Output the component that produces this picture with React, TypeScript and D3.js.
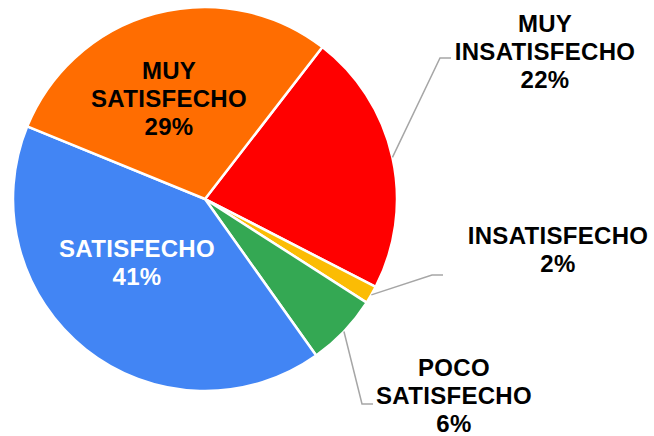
import React from "react";
import * as d3 from "d3";

const categories = ["MUY INSATISFECHO", "INSATISFECHO", "POCO SATISFECHO", "SATISFECHO", "MUY SATISFECHO"];
const values = [22.1, 1.5, 6.1, 41.0, 29.3];
const colors = ["#ff0000", "#fbbc04", "#34a853", "#4285f4", "#ff6d01"];
const labelLines = [["MUY", "INSATISFECHO"], ["INSATISFECHO"], ["POCO", "SATISFECHO"], ["SATISFECHO"], ["MUY", "SATISFECHO"]];

// layout config (label anchor: center x, first baseline y; leader elbow)
const labelLayout = [
  { x: 545, y: 32, outside: true, elbow: [440, 58], end: [451, 58] },
  { x: 558, y: 244, outside: true, elbow: [432, 275], end: [443, 275] },
  { x: 454, y: 376, outside: true, elbow: [362, 404], end: [373, 404] },
  { x: 137, y: 257, outside: false, fill: "#ffffff" },
  { x: 169, y: 79, outside: false, fill: "#000000" },
];

const W = 654, H = 436;
const cx = 205, cy = 199, R = 192;
const startDeg = 37.7;

export default function App() {
  const pie = d3.pie<number>().sort(null).value((d) => d)
    .startAngle((startDeg * Math.PI) / 180)
    .endAngle((startDeg * Math.PI) / 180 + 2 * Math.PI);
  const arcs = pie(values);
  const arc = d3.arc<d3.PieArcDatum<number>>().innerRadius(0).outerRadius(R);
  const lineH = 28;
  return (
    <div style={{ position: "absolute", left: 0, top: 0 }}>
      <svg width={W} height={H} style={{ display: "block" }}>
        <rect width={W} height={H} fill="#ffffff" />
        <g transform={`translate(${cx},${cy})`}>
          {arcs.map((a, i) => (
            <path key={i} d={arc(a) || ""} fill={colors[i]} stroke="#ffffff" strokeWidth={2.5} strokeLinejoin="round" />
          ))}
        </g>
        {arcs.map((a, i) => {
          const L = labelLayout[i];
          if (!L.outside) return null;
          const mid = (a.startAngle + a.endAngle) / 2;
          const sx = cx + R * Math.sin(mid);
          const sy = cy - R * Math.cos(mid);
          const pts = [[sx, sy], L.elbow!, L.end!];
          return (
            <path key={"l" + i} d={d3.line()(pts as [number, number][]) || ""} fill="none" stroke="#a6a6a6" strokeWidth={1.5} />
          );
        })}
        {arcs.map((a, i) => {
          const L = labelLayout[i];
          const lines = [...labelLines[i], `${Math.round(values[i])}%`];
          return (
            <text key={"t" + i} x={L.x} y={L.y} textAnchor="middle"
              fontFamily="'Liberation Sans', Arial, sans-serif" fontWeight="bold" fontSize={24}
              letterSpacing={0.3}
              fill={L.fill || "#000000"}>
              {lines.map((t, j) => (
                <tspan key={j} x={L.x} y={L.y + j * lineH}>{t}</tspan>
              ))}
            </text>
          );
        })}
      </svg>
    </div>
  );
}
